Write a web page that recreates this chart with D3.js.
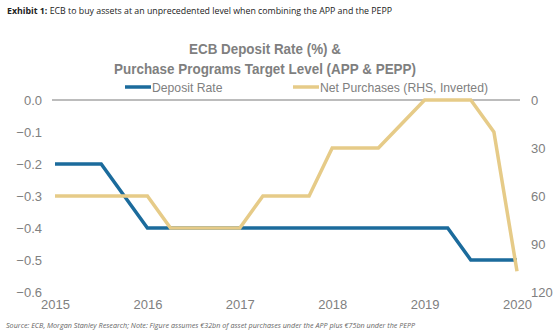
<!DOCTYPE html>
<html><head><meta charset="utf-8">
<script src="https://cdn.jsdelivr.net/npm/d3@7"></script>
<style>body{margin:0;background:#fff}svg{display:block}</style>
</head><body>
<script>
const quarters = [2015,2015.25,2015.5,2015.75,2016,2016.25,2016.5,2016.75,2017,2017.25,2017.5,2017.75,2018,2018.25,2018.5,2018.75,2019,2019.25,2019.5,2019.75,2020];
const depositRate = [-0.2,-0.2,-0.2,-0.3,-0.4,-0.4,-0.4,-0.4,-0.4,-0.4,-0.4,-0.4,-0.4,-0.4,-0.4,-0.4,-0.4,-0.4,-0.5,-0.5,-0.5];
const netPurchases = [60,60,60,60,60,80,80,80,80,60,60,60,30,30,30,15,0,0,0,20,107];
const xTicks = [2015,2016,2017,2018,2019,2020];
const leftTicks = [0,-0.1,-0.2,-0.3,-0.4,-0.5,-0.6];
const rightTicks = [0,30,60,90,120];
const seriesNames = ["Deposit Rate","Net Purchases (RHS, Inverted)"];
const colors = ["#1b6b9c","#e6cb88"];

const W=559,H=336;
const svg=d3.select("body").append("svg").attr("width",W).attr("height",H);
const x=d3.scaleLinear().domain([2015,2020]).range([55,517]);
const yL=d3.scaleLinear().domain([-0.6,0]).range([292,100]);
const yR=d3.scaleLinear().domain([0,120]).range([100,292]);
const gray="#808080";
const font="'Liberation Sans', Arial, sans-serif";

// header
const hdr=svg.append("text").attr("x",7).attr("y",14).attr("font-family","'Open Sans', sans-serif").attr("font-size",8.8).attr("fill","#222");
hdr.append("tspan").attr("font-weight","bold").text("Exhibit 1:");
hdr.append("tspan").text(" ECB to buy assets at an unprecedented level when combining the APP and the PEPP");

// title
const tt=svg.append("g").attr("font-family",font).attr("font-weight","bold").attr("font-size",15.5).attr("fill","#7f7f7f").attr("text-anchor","middle");
tt.append("text").attr("x",265).attr("y",54).attr("textLength",152).attr("lengthAdjust","spacingAndGlyphs").text("ECB Deposit Rate (%) &");
tt.append("text").attr("x",265).attr("y",74).attr("textLength",302).attr("lengthAdjust","spacingAndGlyphs").text("Purchase Programs Target Level (APP & PEPP)");

// zero line
svg.append("line").attr("x1",52).attr("x2",520).attr("y1",yL(0)).attr("y2",yL(0)).attr("stroke","#a6a6a6").attr("stroke-width",1.5);

// axes
const axL=svg.append("g").attr("transform","translate(42,0)").call(d3.axisLeft(yL).tickValues(leftTicks).tickSize(0).tickPadding(0).tickFormat(d3.format(".1f")));
const axR=svg.append("g").attr("transform","translate(531,0)").call(d3.axisRight(yR).tickValues(rightTicks).tickSize(0).tickPadding(0));
const axB=svg.append("g").attr("transform","translate(0,300)").call(d3.axisBottom(x).tickValues(xTicks).tickSize(0).tickPadding(0).tickFormat(d3.format("d")));
[axL,axR,axB].forEach(a=>{a.select(".domain").remove();a.selectAll("text").attr("font-family",font).attr("font-size",13).attr("fill",gray);});

// lines
const lineL=d3.line().x((d,i)=>x(quarters[i])).y(d=>yL(d));
const lineR=d3.line().x((d,i)=>x(quarters[i])).y(d=>yR(d));
svg.append("path").datum(depositRate).attr("d",lineL).attr("fill","none").attr("stroke",colors[0]).attr("stroke-width",3.5);
svg.append("path").datum(netPurchases).attr("d",lineR).attr("fill","none").attr("stroke",colors[1]).attr("stroke-width",3.5);

// legend
const leg=[{x:125,name:seriesNames[0],c:colors[0]},{x:293,name:seriesNames[1],c:colors[1]}];
leg.forEach(l=>{
  svg.append("line").attr("x1",l.x).attr("x2",l.x+26).attr("y1",87).attr("y2",87).attr("stroke",l.c).attr("stroke-width",3.5);
  svg.append("text").attr("x",l.x+27).attr("y",91.5).attr("font-family",font).attr("font-size",12.2).attr("fill",gray).text(l.name);
});

// footer
svg.append("text").attr("x",6).attr("y",328).attr("font-family","'Open Sans', sans-serif").attr("font-style","italic").attr("font-size",7.2).attr("fill","#666")
  .text("Source: ECB, Morgan Stanley Research; Note: Figure assumes €32bn of asset purchases under the APP plus €75bn under the PEPP");
</script>
</body></html>
